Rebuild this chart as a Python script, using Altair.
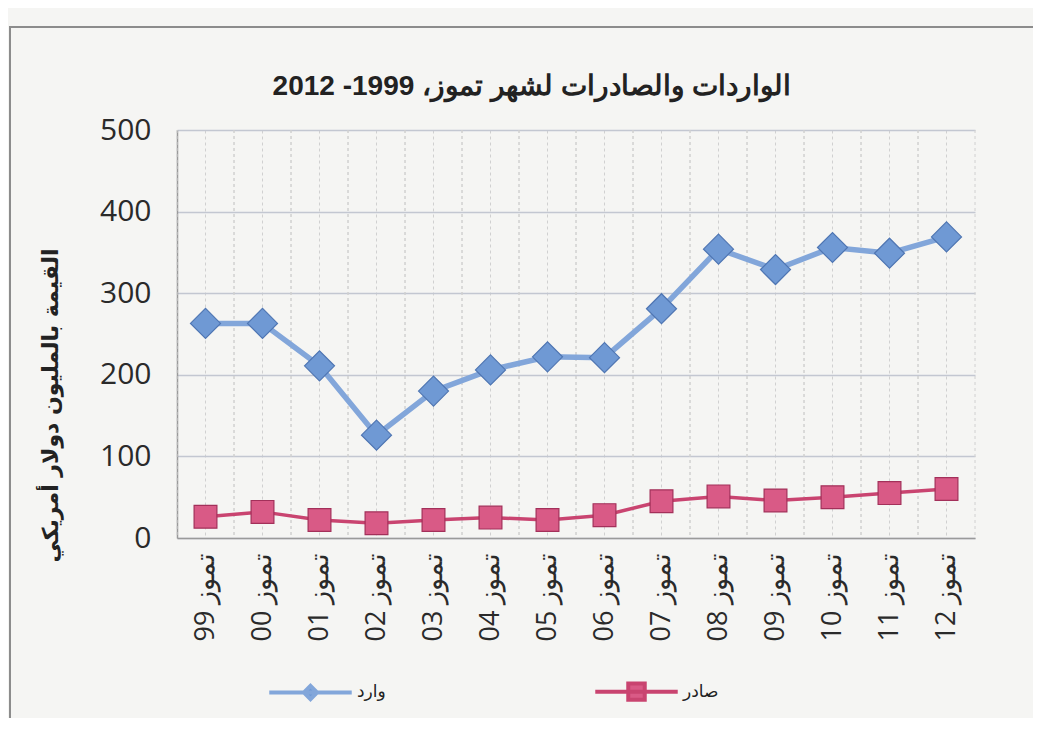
import altair as alt
import pandas as pd

# ---- data ----
years = ["99", "00", "01", "02", "03", "04", "05", "06", "07", "08", "09", "10", "11", "12"]
month = "تموز"
imports = [263, 263, 211, 126, 180, 206, 222, 221, 281, 354, 329, 356, 349, 369]
exports = [26, 32, 22, 18, 22, 25, 22, 28, 45, 51, 46, 50, 55, 60]
series_names = ["وارد", "صادر"]
series_keys = ["imp", "exp"]
y_ticks = [0, 100, 200, 300, 400, 500]

title_text = "الواردات والصادرات لشهر تموز، 1999- 2012"
y_title = "القيمة بالمليون دولار أمريكي"

line_colors = ["#82a6da", "#c94470"]
fill_colors = ["#6f99d4", "#d95a86"]
edge_colors = ["#4f76b3", "#a3305a"]
legend_shapes = ["M-1,0H1M0,-0.16L0.16,0L0,0.16L-0.16,0Z",
                 "M-1,0H1M-0.2,-0.2H0.2V0.2H-0.2Z"]

cats = [f"{month} {y}" for y in years]
rows = []
for c, v in zip(cats, imports):
    rows.append({"cat": c, "series": series_names[0], "mk": series_keys[0], "value": v})
for c, v in zip(cats, exports):
    rows.append({"cat": c, "series": series_names[1], "mk": series_keys[1], "value": v})
df = pd.DataFrame(rows)
cat_df = pd.DataFrame({"cat": cats})

W, H = 798, 408

xscale = alt.Scale(type="band", paddingInner=0, paddingOuter=0)

x_axis = alt.Axis(
    labelAngle=-90, labelFontSize=27, labelFont="Open Sans", labelColor="#2a2a2a",
    labelPadding=14, ticks=False, grid=True, gridColor="#d0d0d0", gridDash=[3, 3],
    gridWidth=1, domainColor="#9a9a9a", domainWidth=1.5, title=None,
)
y_axis = alt.Axis(
    values=y_ticks, labelFontSize=30, labelFont="Open Sans", labelColor="#2a2a2a",
    labelPadding=26, ticks=False, gridColor="#c3c7d1", gridWidth=1.5,
    domainColor="#9a9a9a", domainWidth=1.5,
    title=y_title, titleFont="DejaVu Sans", titleFontSize=22, titleFontWeight="bold",
    titleColor="#222222", titleX=-127, titleY=275, titleAngle=270,
    titleAlign="center", titleBaseline="middle",
)

legend = alt.Legend(
    orient="none", legendX=90, legendY=518, direction="horizontal", title=None,
    symbolSize=6800, symbolStrokeWidth=4, labelFontSize=17, labelFont="DejaVu Sans",
    labelColor="#222222", columnPadding=201, labelOffset=3, padding=0,
)

base = alt.Chart(df)
X = alt.X("cat:N", sort=cats, scale=xscale, bandPosition=0.5, axis=x_axis)
Y = alt.Y("value:Q", scale=alt.Scale(domain=[0, 500]), axis=y_axis)

# boundary grid lines between categories
edges_l = alt.Chart(cat_df).mark_rule(color="#d0d0d0", strokeDash=[3, 3], strokeWidth=1).encode(
    x=alt.X("cat:N", sort=cats, scale=xscale, bandPosition=0, axis=x_axis)
)
edges_r = alt.Chart(cat_df).mark_rule(color="#d0d0d0", strokeDash=[3, 3], strokeWidth=1).encode(
    x=alt.X("cat:N", sort=cats, scale=xscale, bandPosition=1, axis=x_axis)
)

lines = base.mark_line().encode(
    x=X, y=Y,
    color=alt.Color("mk:N", scale=alt.Scale(domain=series_keys, range=line_colors), legend=None),
    strokeWidth=alt.StrokeWidth("mk:N", scale=alt.Scale(domain=series_keys, range=[5.5, 3.5]), legend=None),
)
points = base.mark_point(filled=True, opacity=1, strokeWidth=1.2).encode(
    x=X, y=Y,
    shape=alt.Shape("mk:N", scale=alt.Scale(domain=series_keys, range=["diamond", "square"]), legend=None),
    fill=alt.Fill("mk:N", scale=alt.Scale(domain=series_keys, range=fill_colors), legend=None),
    stroke=alt.Stroke("mk:N", scale=alt.Scale(domain=series_keys, range=edge_colors), legend=None),
    size=alt.Size("mk:N", scale=alt.Scale(domain=series_keys, range=[900, 520]), legend=None),
)

# legend only (no marks drawn): line-with-marker symbols from the series scales
legend_layer = base.transform_filter("false").mark_point(filled=True, opacity=1, strokeWidth=4).encode(
    x=X, y=Y,
    shape=alt.Shape("series:N", scale=alt.Scale(domain=series_names, range=legend_shapes), legend=legend),
    fill=alt.Fill("series:N", scale=alt.Scale(domain=series_names, range=fill_colors), legend=legend),
    stroke=alt.Stroke("series:N", scale=alt.Scale(domain=series_names, range=line_colors), legend=legend),
)

frame = alt.Chart(pd.DataFrame({"k": [0]})).mark_rect(
    fill=None, stroke="#8c8c8c", strokeWidth=2
).encode(
    x=alt.value(-167), x2=alt.value(858), y=alt.value(-103), y2=alt.value(640)
)

chart = alt.layer(frame, edges_l, edges_r, lines, points, legend_layer).resolve_scale(
    shape="independent", fill="independent", stroke="independent"
).properties(
    width=W, height=H,
    title=alt.TitleParams(
        title_text, font="Liberation Sans", fontSize=28, fontWeight="bold",
        color="#222222", anchor="middle", frame="group", dx=-44, dy=103, offset=28,
    ),
    padding={"left": 169, "top": 122, "right": 58, "bottom": 180},
    autosize=alt.AutoSizeParams(type="none"),
    background="#f5f5f3",
).configure_view(stroke=None)

chart.save("out.html", embed_options={"renderer": "svg", "actions": False})
